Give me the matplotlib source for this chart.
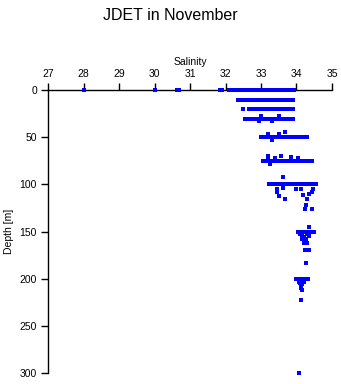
import matplotlib
matplotlib.use("Agg")
import matplotlib.pyplot as plt

# salinity readings grouped by nominal depth (m)
sal_0m = [28.0, 30.0, 30.62, 30.68, 31.85, 31.9, 32.1, 32.15, 32.2, 32.25, 32.3,
          32.37, 32.42, 32.48, 32.53, 32.58, 32.65, 32.7, 32.75, 32.8, 32.85,
          32.9, 32.95, 33.0, 33.05, 33.1, 33.15, 33.2, 33.25, 33.3, 33.35, 33.4,
          33.45, 33.5, 33.55, 33.6, 33.65, 33.7, 33.75, 33.8, 33.85, 33.9, 33.93]
sal_10m = [32.36, 32.41, 32.46, 32.51, 32.56, 32.61, 32.66, 32.71, 32.76, 32.81,
           32.86, 32.91, 32.96, 33.01, 33.06, 33.11, 33.16, 33.21, 33.26, 33.31,
           33.36, 33.41, 33.46, 33.51, 33.56, 33.61, 33.66, 33.71, 33.76, 33.81,
           33.86, 33.91]
sal_20m = [32.5, 32.67, 32.78, 32.83, 32.88, 32.93, 32.98, 33.03, 33.08, 33.13,
           33.18, 33.23, 33.28, 33.33, 33.38, 33.43, 33.48, 33.53, 33.58, 33.63,
           33.68, 33.73, 33.78, 33.83, 33.89]
sal_30m = [32.57, 32.76, 32.81, 32.86, 32.91, 32.96, 33.01, 33.06, 33.11, 33.16,
           33.21, 33.26, 33.31, 33.36, 33.41, 33.46, 33.51, 33.56, 33.61, 33.66,
           33.71, 33.76, 33.81, 33.86, 33.89]
sal_50m = [33.0, 33.05, 33.1, 33.15, 33.2, 33.25, 33.3, 33.35, 33.4, 33.45, 33.5,
           33.55, 33.6, 33.65, 33.7, 33.75, 33.8, 33.85, 33.9, 33.95, 34.0,
           34.05, 34.1, 34.15, 34.2, 34.25, 34.29]
sal_75m = [33.07, 33.12, 33.17, 33.22, 33.27, 33.32, 33.37, 33.42, 33.47, 33.52,
           33.57, 33.62, 33.67, 33.72, 33.77, 33.82, 33.87, 33.92, 33.97, 34.02,
           34.07, 34.12, 34.17, 34.22, 34.27, 34.32, 34.37, 34.43]
sal_100m = [33.23, 33.28, 33.33, 33.4, 33.45, 33.5, 33.56, 33.6, 33.65, 33.7,
            33.75, 33.8, 33.85, 33.9, 33.95, 34.0, 34.06, 34.11, 34.16, 34.21,
            34.26, 34.31, 34.36, 34.41, 34.46, 34.51, 34.55]
sal_150m = [34.05, 34.1, 34.15, 34.2, 34.25, 34.3, 34.35, 34.4, 34.45, 34.5]
sal_200m = [34.0, 34.05, 34.1, 34.15, 34.2, 34.25, 34.3, 34.33]

# scattered single readings
extra_sal = [32.58, 32.62, 32.54, 33.0, 33.5, 32.95, 33.3, 33.68, 33.2, 33.5, 33.3,
             33.2, 33.55, 33.85, 33.2, 33.4, 34.05, 33.25, 33.61,
             33.46, 33.46, 33.52, 33.68, 33.63, 34.0, 34.13, 34.19, 34.29, 34.36,
             34.43, 34.47, 34.27, 34.25, 34.43, 34.36,
             34.1, 34.15, 34.2, 34.3, 34.35, 34.15, 34.22, 34.28, 34.2, 34.3,
             34.25, 34.36, 34.27,
             34.08, 34.1, 34.15, 34.2, 34.12, 34.14, 34.16, 34.19, 34.14, 34.07]
extra_depth = [31, 31, 31, 28, 28, 33, 33, 44.7, 47, 47, 53,
               70, 70, 71, 72, 72, 72, 78, 92,
               104.5, 108, 112, 115.5, 104, 105, 105, 111, 115.5, 110,
               108.6, 105, 122, 126, 126, 145,
               153, 155, 156, 153, 155, 158, 160, 158, 162, 162,
               169.5, 169.5, 183.5,
               203, 205, 206, 204, 208, 210, 212, 204, 223, 300]

depths = [0, 10.5, 20.4, 30.6, 50, 75, 100, 150.6, 200.5]
rows = [sal_0m, sal_10m, sal_20m, sal_30m, sal_50m, sal_75m, sal_100m,
        sal_150m, sal_200m]

x_ticks = [27, 28, 29, 30, 31, 32, 33, 34, 35]
y_ticks = [0, 50, 100, 150, 200, 250, 300]


def main():
    plt.rcParams["font.family"] = ["Liberation Sans", "DejaVu Sans"]
    fig = plt.figure(figsize=(3.41, 3.84), dpi=100)
    ax = fig.add_axes([0.1408, 0.0286, 0.8328, 0.737])

    sal = []
    dep = []
    for d, row in zip(depths, rows):
        sal += row
        dep += [d] * len(row)
    sal += extra_sal
    dep += extra_depth

    ax.plot(sal, dep, "s", color="#0000ff", markersize=2.2, markeredgewidth=0,
            antialiased=False, clip_on=False, zorder=3)

    ax.set_xlim(27, 35)
    ax.set_ylim(300, 0)
    ax.set_xticks(x_ticks)
    ax.set_yticks(y_ticks)
    ax.xaxis.tick_top()
    ax.xaxis.set_label_position("top")
    ax.spines["right"].set_visible(False)
    ax.spines["bottom"].set_visible(False)
    ax.spines["top"].set_linewidth(1)
    ax.spines["left"].set_linewidth(1)
    ax.tick_params(axis="both", direction="out", length=5, width=1,
                   labelsize=7.5, pad=3)
    ax.set_xlabel("Salinity", fontsize=7.5, labelpad=3)
    ax.set_ylabel("Depth [m]", fontsize=7.5, labelpad=4)

    fig.suptitle("JDET in November", fontsize=11.5, y=0.98)
    fig.savefig("out.png", dpi=100)


if __name__ == "__main__":
    main()
